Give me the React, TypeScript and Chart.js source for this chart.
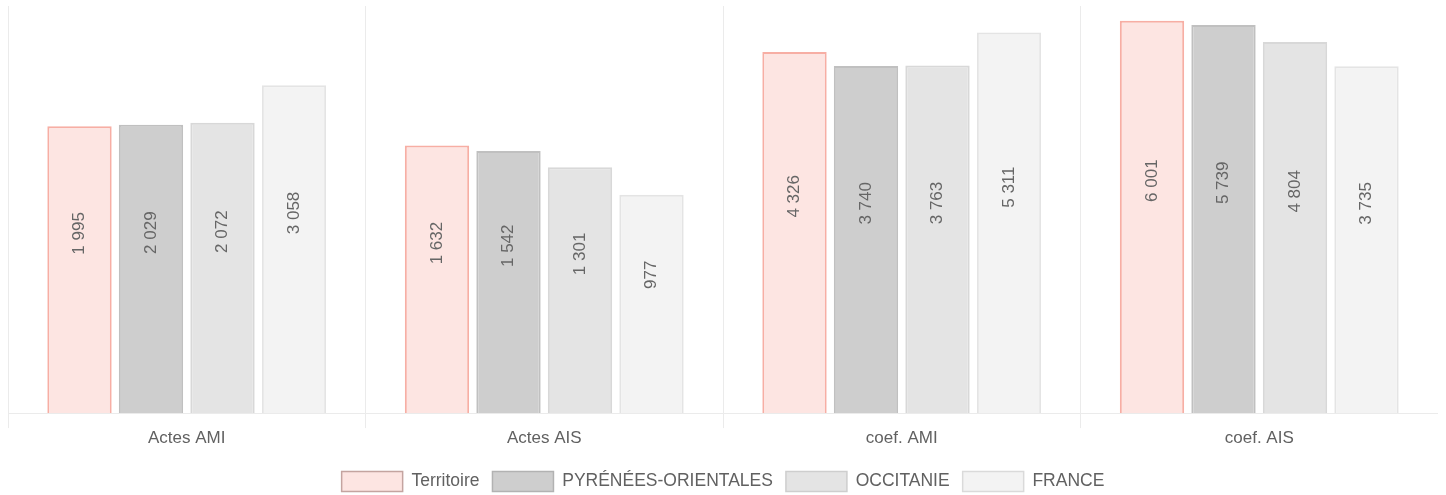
import React, { useEffect, useRef } from 'react';
import { Chart, registerables } from 'chart.js';

Chart.register(...registerables);

const categories = ['Actes AMI', 'Actes AIS', 'coef. AMI', 'coef. AIS'];
const seriesNames = ['Territoire', 'PYRÉNÉES-ORIENTALES', 'OCCITANIE', 'FRANCE'];
const territoire = [1995, 1632, 4326, 6001];
const pyreneesOrientales = [2029, 1542, 3740, 5739];
const occitanie = [2072, 1301, 3763, 4804];
const france = [3058, 977, 5311, 3735];

const fills = ['#fde5e2', '#cecece', '#e4e4e4', '#f3f3f3'];
const borders = ['#f7aea4', '#c0c0c0', '#d8d8d8', '#e4e4e4'];
const legendBorders = ['#c4a4a0', '#b2b2b2', '#cecece', '#dadada'];

const FONT = "'Liberation Sans', Arial, sans-serif";

const fmt = (v: number) => String(v).replace(/\B(?=(\d{3})+(?!\d))/g, ' ');

const valueLabels = {
  id: 'valueLabels',
  afterDatasetsDraw(chart: any) {
    const ctx = chart.ctx;
    ctx.save();
    ctx.font = `17px ${FONT}`;
    ctx.fillStyle = '#666';
    ctx.textAlign = 'left';
    ctx.textBaseline = 'middle';
    chart.data.datasets.forEach((ds: any, i: number) => {
      const meta = chart.getDatasetMeta(i);
      if (meta.hidden) return;
      meta.data.forEach((bar: any, j: number) => {
        const { x, y, base } = bar.getProps(['x', 'y', 'base'], true);
        const cy = (y + base) / 2;
        ctx.save();
        ctx.translate(x, cy - 15);
        ctx.rotate(-Math.PI / 2);
        ctx.fillText(fmt(ds.data[j]), 0, 0);
        ctx.restore();
      });
    });
    ctx.restore();
  },
};

export default function App() {
  const ref = useRef<HTMLCanvasElement>(null);
  useEffect(() => {
    if (!ref.current) return;
    Chart.defaults.font.family = FONT;
    const series = [territoire, pyreneesOrientales, occitanie, france];
    const chart = new Chart(ref.current, {
      type: 'bar',
      data: {
        labels: categories,
        datasets: series.map((data, i) => ({
          label: seriesNames[i],
          data,
          backgroundColor: fills[i],
          borderColor: borders[i],
          borderWidth: 2,
        })),
      },
      options: {
        animation: false,
        responsive: true,
        maintainAspectRatio: false,
        layout: { padding: { top: 6, left: 0, right: 0, bottom: -6.5 } },
        plugins: {
          legend: {
            position: 'bottom',
            labels: {
              boxWidth: 61,
              boxHeight: 20,
              padding: 13,
              color: '#616161',
              font: { size: 17.5, family: FONT },
              generateLabels: (c: any) =>
                c.data.datasets.map((ds: any, i: number) => ({
                  text: ds.label,
                  fillStyle: fills[i],
                  strokeStyle: legendBorders[i],
                  lineWidth: 1.5,
                  hidden: !c.isDatasetVisible(i),
                  datasetIndex: i,
                  fontColor: '#616161',
                })),
            },
          },
          tooltip: { enabled: false },
        },
        scales: {
          x: {
            grid: {
              color: 'rgba(0,0,0,0.08)',
              tickLength: 15,
              offset: true,
            },
            border: { color: 'rgba(0,0,0,0.08)' },
            ticks: { color: '#616161', font: { size: 17, family: FONT }, padding: 0 },
            afterFit: (scale: any) => {
              scale.height += 10;
            },
          },
          y: {
            type: 'logarithmic',
            display: false,
            min: 100,
            max: 7000,
          },
        },
      },
      plugins: [valueLabels],
    });
    return () => chart.destroy();
  }, []);
  return (
    <div style={{ position: 'absolute', left: 8, top: 0, width: 1430, height: 495, overflow: 'hidden' }}>
      <canvas ref={ref} />
    </div>
  );
}
